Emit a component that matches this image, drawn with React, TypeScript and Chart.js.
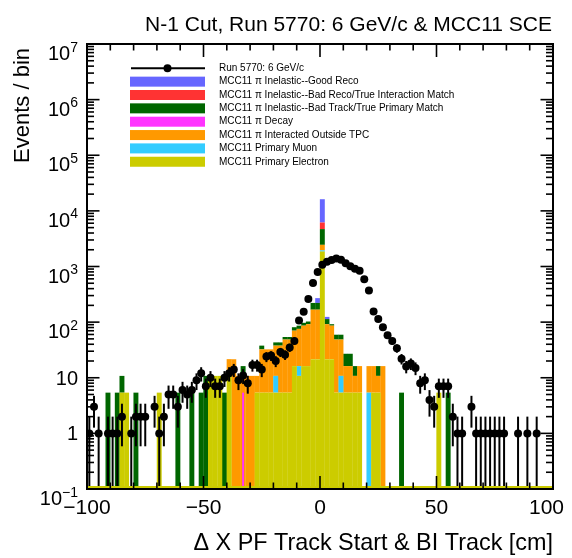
import React, { useEffect, useRef } from "react";
import { Chart, registerables } from "chart.js";

Chart.register(...registerables);

const FONT = '"Liberation Sans", Arial, Helvetica, sans-serif';

// Histogram binning: 100 bins of 2 cm between -100 cm and 100 cm
const X_MIN = -100;
const X_MAX = 100;
const BIN_WIDTH = 2;
const binCenters: number[] = Array.from(
  { length: (X_MAX - X_MIN) / BIN_WIDTH },
  (_, i) => X_MIN + BIN_WIDTH * (i + 0.5)
);

const xTickLabels = [-100, -50, 0, 50, 100];
const yDecades = [-1, 0, 1, 2, 3, 4, 5, 6, 7];

const TITLE = "N-1 Cut, Run 5770: 6 GeV/c & MCC11 SCE";
const X_TITLE = "\u0394 X PF Track Start & BI Track [cm]";
const Y_TITLE = "Events / bin";

const DATA_LABEL = "Run 5770: 6 GeV/c";
// events per bin in data
const dataCounts = [
  1, 3, 1, 0, 1, 1, 1, 2, 0, 1,
  2, 2, 2, 0, 3, 1, 2, 5, 5, 3,
  6, 5, 6, 9, 12, 7, 10, 7, 7, 10,
  12, 14, 9, 11, 8, 17, 17, 14, 24, 25,
  20, 29, 26, 35, 46, 107, 153, 260, 505, 795,
  1070, 1220, 1310, 1390, 1320, 1140, 1010, 910, 840, 590,
  370, 155, 114, 81, 58, 46, 34, 22, 16, 18,
  15, 8, 9, 4, 3, 7, 7, 7, 2, 1,
  1, 0, 3, 1, 1, 1, 1, 1, 1, 1,
  0, 0, 1, 0, 1, 0, 1, 0, 0, 0,
];

// MC is normalised to data: weight per simulated event
const MC_SCALE = 5.4;

// simulated events per bin, one array per category
const mcElectron = [
  0, 0, 0, 0, 0, 0, 0, 1, 1, 0,
  0, 0, 0, 0, 0, 1, 0, 0, 0, 0,
  0, 0, 0, 0, 0, 0, 2, 2, 2, 0,
  2, 0, 0, 0, 0, 0, 1, 1, 1, 1,
  1, 1, 1, 1, 3, 2, 3, 3, 4, 4,
  343, 4, 4, 1, 1, 1, 1, 1, 1, 0,
  0, 1, 1, 0, 0, 0, 0, 0, 0, 0,
  0, 0, 0, 0, 0, 1, 0, 0, 0, 0,
  0, 0, 0, 0, 0, 0, 0, 0, 0, 0,
  0, 0, 0, 0, 0, 0, 0, 0, 0, 0,
];
const mcMuon = [
  0, 0, 0, 0, 0, 0, 0, 0, 0, 0,
  0, 0, 0, 0, 0, 0, 0, 0, 0, 0,
  0, 0, 0, 0, 0, 0, 0, 0, 0, 0,
  0, 0, 0, 0, 0, 0, 0, 0, 0, 0,
  1, 0, 0, 0, 0, 1, 0, 0, 0, 0,
  18, 0, 0, 0, 1, 0, 0, 0, 0, 0,
  1, 0, 0, 0, 0, 0, 0, 0, 0, 0,
  0, 0, 0, 0, 0, 0, 0, 0, 0, 0,
  0, 0, 0, 0, 0, 0, 0, 0, 0, 0,
  0, 0, 0, 0, 0, 0, 0, 0, 0, 0,
];
const mcOutside = [
  0, 0, 0, 0, 0, 0, 0, 0, 0, 0,
  0, 0, 0, 0, 0, 0, 0, 0, 0, 0,
  0, 0, 0, 0, 0, 0, 0, 0, 0, 0,
  2, 4, 2, 2, 2, 2, 1, 5, 5, 5,
  5, 6, 8, 8, 10, 11, 13, 14, 27, 27,
  93, 13, 12, 8, 7, 2, 2, 1, 2, 0,
  2, 2, 1, 3, 0, 0, 0, 0, 0, 0,
  0, 0, 0, 0, 0, 0, 0, 0, 0, 0,
  0, 0, 0, 0, 0, 0, 0, 0, 0, 0,
  0, 0, 0, 0, 0, 0, 0, 0, 0, 0,
];
const mcDecay = [
  0, 0, 0, 0, 0, 0, 0, 0, 0, 0,
  0, 0, 0, 0, 0, 0, 0, 0, 0, 0,
  0, 0, 0, 0, 0, 0, 0, 0, 0, 0,
  0, 0, 0, 1, 0, 0, 0, 0, 0, 0,
  0, 0, 0, 0, 0, 0, 0, 0, 0, 0,
  0, 0, 0, 0, 0, 0, 0, 0, 0, 0,
  0, 0, 0, 0, 0, 0, 0, 0, 0, 0,
  0, 0, 0, 0, 0, 0, 0, 0, 0, 0,
  0, 0, 0, 0, 0, 0, 0, 0, 0, 0,
  0, 0, 0, 0, 0, 0, 0, 0, 0, 0,
];
const mcBadTrack = [
  0, 0, 0, 0, 1, 0, 1, 1, 0, 0,
  1, 0, 0, 0, 0, 0, 0, 0, 0, 1,
  0, 0, 1, 0, 1, 2, 0, 0, 0, 1,
  0, 0, 0, 1, 0, 0, 0, 1, 0, 0,
  1, 1, 1, 1, 2, 2, 2, 2, 10, 10,
  417, 4, 1, 2, 2, 2, 2, 1, 0, 0,
  0, 0, 1, 0, 0, 0, 0, 1, 0, 0,
  0, 0, 0, 0, 0, 0, 0, 1, 0, 0,
  0, 0, 0, 0, 0, 0, 0, 0, 0, 0,
  0, 0, 0, 0, 0, 0, 0, 0, 0, 0,
];
const mcBadReco = [
  0, 0, 0, 0, 0, 0, 0, 0, 0, 0,
  0, 0, 0, 0, 0, 0, 0, 0, 0, 0,
  0, 0, 0, 0, 0, 0, 0, 0, 0, 0,
  0, 0, 0, 0, 0, 0, 0, 0, 0, 0,
  0, 0, 0, 0, 0, 0, 0, 0, 0, 0,
  272, 0, 0, 0, 0, 0, 0, 0, 0, 0,
  0, 0, 0, 0, 0, 0, 0, 0, 0, 0,
  0, 0, 0, 0, 0, 0, 0, 0, 0, 0,
  0, 0, 0, 0, 0, 0, 0, 0, 0, 0,
  0, 0, 0, 0, 0, 0, 0, 0, 0, 0,
];
const mcGoodReco = [
  0, 0, 0, 0, 0, 0, 0, 0, 0, 0,
  0, 0, 0, 0, 0, 0, 0, 0, 0, 0,
  0, 0, 0, 0, 0, 0, 0, 0, 0, 0,
  0, 0, 0, 0, 0, 0, 0, 0, 0, 0,
  0, 0, 0, 0, 0, 0, 0, 0, 0, 9,
  1857, 2, 0, 0, 0, 0, 0, 0, 0, 0,
  0, 0, 0, 0, 0, 0, 0, 0, 0, 0,
  0, 0, 0, 0, 0, 0, 0, 0, 0, 0,
  0, 0, 0, 0, 0, 0, 0, 0, 0, 0,
  0, 0, 0, 0, 0, 0, 0, 0, 0, 0,
];

// stack order: first entry at the bottom
const mcLabels = [
  "MCC11 Primary Electron",
  "MCC11 Primary Muon",
  "MCC11 \u03c0 Interacted Outside TPC",
  "MCC11 \u03c0 Decay",
  "MCC11 \u03c0 Inelastic--Bad Track/True Primary Match",
  "MCC11 \u03c0 Inelastic--Bad Reco/True Interaction Match",
  "MCC11 \u03c0 Inelastic--Good Reco",
];
const mcCounts = [mcElectron, mcMuon, mcOutside, mcDecay, mcBadTrack, mcBadReco, mcGoodReco];
const mcColors = ["#cccc00", "#33ccff", "#ff9900", "#ff33ff", "#006600", "#ff3333", "#6666ff"];
// the decay sample is a thin strip drawn over the stack rather than inside it
const DECAY_INDEX = 3;

const DATA_INDEX = mcLabels.length;

function line(ctx: CanvasRenderingContext2D, x1: number, y1: number, x2: number, y2: number) {
  ctx.beginPath();
  ctx.moveTo(x1, y1);
  ctx.lineTo(x2, y2);
  ctx.stroke();
}

// Poisson error bars for the data points, drawn beneath the markers
const errorBarPlugin = {
  id: "poissonErrors",
  beforeDatasetDraw(chart: any, args: any) {
    if (args.index !== DATA_INDEX) return;
    const { ctx, chartArea: a, scales } = chart;
    const xs = scales.x;
    const ys = scales.y;
    ctx.save();
    ctx.beginPath();
    ctx.rect(a.left, a.top, a.right - a.left, a.bottom - a.top);
    ctx.clip();
    ctx.strokeStyle = "#000";
    ctx.lineWidth = 2;
    dataCounts.forEach((n, i) => {
      if (n <= 0) return;
      const err = Math.sqrt(n);
      const px = xs.getPixelForValue(binCenters[i]);
      const lo = n - err > 0 ? ys.getPixelForValue(n - err) : a.bottom;
      const hi = ys.getPixelForValue(n + err);
      line(ctx, px, lo, px, hi);
      const py = ys.getPixelForValue(n);
      line(ctx, xs.getPixelForValue(binCenters[i] - BIN_WIDTH / 2), py, xs.getPixelForValue(binCenters[i] + BIN_WIDTH / 2), py);
    });
    ctx.restore();
  },
};

// Frame, inward ticks, labels, titles and legend in the ROOT style
const framePlugin = {
  id: "rootFrame",
  afterDraw(chart: any) {
    const { ctx, chartArea: a, scales } = chart;
    const xs = scales.x;
    const ys = scales.y;
    ctx.save();

    // empty-bin outline of the lowest stacked histogram along the axis floor
    ctx.strokeStyle = mcColors[0];
    ctx.lineWidth = 2;
    line(ctx, a.left, a.bottom - 2, a.right, a.bottom - 2);

    ctx.strokeStyle = "#000";
    ctx.lineWidth = 2;
    ctx.strokeRect(a.left, a.top, a.right - a.left, a.bottom - a.top);

    // x ticks, top and bottom, pointing inwards
    ctx.lineWidth = 1.6;
    for (let v = X_MIN; v <= X_MAX; v += 10) {
      const px = xs.getPixelForValue(v);
      const len = v % 50 === 0 ? 13 : 6.5;
      line(ctx, px, a.bottom, px, a.bottom - len);
      line(ctx, px, a.top, px, a.top + len);
    }
    // y ticks, left and right
    for (const e of yDecades) {
      for (let m = 1; m <= 9; m++) {
        const v = m * Math.pow(10, e);
        if (v > ys.max * 1.0001) break;
        const py = ys.getPixelForValue(v);
        const len = m === 1 ? 12.5 : 7;
        line(ctx, a.left, py, a.left + len, py);
        line(ctx, a.right, py, a.right - len, py);
      }
    }

    ctx.fillStyle = "#000";
    // x tick labels
    ctx.font = `21px ${FONT}`;
    ctx.textAlign = "center";
    ctx.textBaseline = "alphabetic";
    const canvasW = chart.width;
    for (const v of xTickLabels) {
      const txt = v < 0 ? "\u2212" + Math.abs(v) : String(v);
      const w = ctx.measureText(txt).width;
      let cx = xs.getPixelForValue(v);
      if (cx + w / 2 > canvasW - 8) cx = canvasW - 8 - w / 2;
      ctx.fillText(txt, cx, a.bottom + 25);
    }

    // y tick labels (powers of ten)
    const labelRight = a.left - 9;
    for (const e of yDecades) {
      const py = ys.getPixelForValue(Math.pow(10, e));
      ctx.textAlign = "right";
      if (e === 0 || e === 1) {
        ctx.font = `20px ${FONT}`;
        ctx.fillText(e === 0 ? "1" : "10", labelRight, py + 7);
      } else {
        const sup = e < 0 ? "\u2212" + Math.abs(e) : String(e);
        ctx.font = `14px ${FONT}`;
        const wSup = ctx.measureText(sup).width;
        ctx.fillText(sup, labelRight, py + 7.5);
        ctx.font = `20px ${FONT}`;
        ctx.fillText("10", labelRight - wSup, py + 16);
      }
    }

    // titles
    ctx.font = `21px ${FONT}`;
    ctx.textAlign = "right";
    ctx.fillText(TITLE, a.right - 1, 31);

    ctx.font = `23.4px ${FONT}`;
    ctx.fillText(X_TITLE, a.right, a.bottom + 61);

    ctx.save();
    ctx.translate(29, a.top + 4);
    ctx.rotate(-Math.PI / 2);
    ctx.font = `22px ${FONT}`;
    ctx.textAlign = "right";
    ctx.fillText(Y_TITLE, 0, 0);
    ctx.restore();

    // legend: data first, then the stack from top to bottom
    const boxL = a.left + 43;
    const boxR = a.left + 118;
    const textX = a.left + 132;
    const rowH = 13.35;
    let rowY = a.top + 24.3;
    ctx.font = `10px ${FONT}`;
    ctx.textAlign = "left";
    ctx.textBaseline = "middle";
    ctx.strokeStyle = "#000";
    ctx.lineWidth = 2;
    line(ctx, boxL + 1, rowY, boxR, rowY);
    ctx.beginPath();
    ctx.arc((boxL + boxR) / 2, rowY, 4, 0, Math.PI * 2);
    ctx.fill();
    ctx.fillText(DATA_LABEL, textX, rowY);
    for (let k = mcLabels.length - 1; k >= 0; k--) {
      rowY += rowH;
      ctx.fillStyle = mcColors[k];
      ctx.fillRect(boxL, rowY - 5, boxR - boxL, 10);
      ctx.fillStyle = "#000";
      ctx.fillText(mcLabels[k], textX, rowY);
    }

    ctx.restore();
  },
};

export default function App() {
  const canvasRef = useRef<HTMLCanvasElement | null>(null);

  useEffect(() => {
    const canvas = canvasRef.current;
    if (!canvas) return;

    const barSets = mcCounts.map((counts, k) => {
      const isDecay = k === DECAY_INDEX;
      return {
        type: "bar" as const,
        label: mcLabels[k],
        data: counts.map((c, i) => ({ x: binCenters[i], y: c > 0 ? c * MC_SCALE : null })),
        backgroundColor: mcColors[k],
        borderWidth: 0,
        barPercentage: isDecay ? 0.42 : 1.06,
        categoryPercentage: 1,
        grouped: !isDecay,
        stack: isDecay ? "decay" : "mc",
        order: isDecay ? 0.5 : 1,
      };
    });

    const dataSet = {
      type: "scatter" as const,
      label: DATA_LABEL,
      data: dataCounts
        .map((c, i) => ({ x: binCenters[i], y: c }))
        .filter((p) => p.y > 0),
      pointRadius: 4,
      pointHoverRadius: 4,
      pointBackgroundColor: "#000",
      pointBorderWidth: 0,
      showLine: false,
      order: 0,
    };

    const chart = new Chart(canvas, {
      type: "bar",
      data: { datasets: [...barSets, dataSet] as any },
      options: {
        responsive: false,
        devicePixelRatio: 1,
        animation: false,
        events: [],
        layout: { padding: { left: 87, right: 19, top: 44, bottom: 69 } },
        scales: {
          x: {
            type: "linear",
            min: X_MIN,
            max: X_MAX,
            offset: false,
            display: false,
            ticks: { stepSize: 10 },
          },
          y: {
            type: "logarithmic",
            min: 0.1,
            max: 1e7,
            display: false,
          },
        },
        plugins: {
          legend: { display: false },
          title: { display: false },
          tooltip: { enabled: false },
        },
      },
      plugins: [errorBarPlugin, framePlugin],
    });

    return () => chart.destroy();
  }, []);

  return (
    <div style={{ position: "absolute", left: 0, top: 0, width: 572, height: 558, background: "#fff" }}>
      <canvas ref={canvasRef} width={572} height={558} style={{ display: "block", width: 572, height: 558 }} />
    </div>
  );
}
